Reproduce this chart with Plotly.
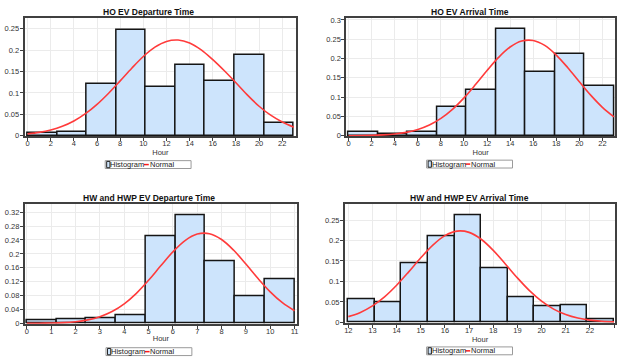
import plotly.graph_objects as go

# ---------------- data ----------------
# HO EV Departure Time
ho_dep_title = "HO EV Departure Time"
ho_dep_range = (0, 23)
ho_dep_freq = [0.006, 0.008, 0.120, 0.247, 0.115, 0.165, 0.128, 0.188, 0.030]
ho_dep_norm_x = [0, 1, 2, 3, 4, 5, 6, 7, 8, 9, 10, 11, 12, 13, 14, 15, 16, 17, 18, 19, 20, 21, 22, 23]
ho_dep_norm_y = [0.0043, 0.0078, 0.0134, 0.0220, 0.0345, 0.0515, 0.0733, 0.0994, 0.1284, 0.1580,
                 0.1854, 0.2071, 0.2206, 0.2238, 0.2170, 0.2010, 0.1780, 0.1520, 0.1240, 0.0950,
                 0.0690, 0.0480, 0.0320, 0.0200]

# HO EV Arrival Time
ho_arr_title = "HO EV Arrival Time"
ho_arr_range = (0, 23)
ho_arr_freq = [0.010, 0.0035, 0.010, 0.075, 0.118, 0.277, 0.165, 0.212, 0.130]
ho_arr_norm_x = [0, 1, 2, 3, 4, 5, 6, 7, 8, 9, 10, 11, 12, 13, 14, 15, 16, 17, 18, 19, 20, 21, 22, 23]
ho_arr_norm_y = [0.0002, 0.0005, 0.0010, 0.0023, 0.0046, 0.0089, 0.0162, 0.0278, 0.0449, 0.0683,
                 0.0981, 0.1326, 0.1690, 0.2030, 0.2299, 0.2454, 0.2468, 0.2340, 0.2091, 0.1762,
                 0.1399, 0.1047, 0.0738, 0.0491]

# HW and HWP EV Departure Time
hw_dep_title = "HW and HWP EV Departure Time"
hw_dep_range = (0, 11)
hw_dep_freq = [0.010, 0.012, 0.014, 0.0245, 0.252, 0.312, 0.179, 0.079, 0.127]
hw_dep_norm_x = [0, 0.5, 1, 1.5, 2, 2.5, 3, 3.5, 4, 4.5, 5, 5.5, 6, 6.5, 7, 7.5, 8, 8.5, 9, 9.5,
                 10, 10.5, 11]
hw_dep_norm_y = [0.0001, 0.0004, 0.0010, 0.0022, 0.0049, 0.0101, 0.0192, 0.0341, 0.0563, 0.0866,
                 0.1241, 0.1657, 0.2059, 0.2384, 0.2571, 0.2582, 0.2415, 0.2104, 0.1707, 0.1290,
                 0.0908, 0.0595, 0.0363]

# HW and HWP EV Arrival Time
hw_arr_title = "HW and HWP EV Arrival Time"
hw_arr_range = (12, 23)
hw_arr_freq = [0.056, 0.0497, 0.1434, 0.2115, 0.262, 0.1314, 0.0609, 0.040, 0.0417, 0.008]
hw_arr_norm_x = [12, 12.5, 13, 13.5, 14, 14.5, 15, 15.5, 16, 16.5, 17, 17.5, 18, 18.5, 19, 19.5,
                 20, 20.5, 21, 21.5, 22, 22.5, 23]
hw_arr_norm_y = [0.0140, 0.0242, 0.0401, 0.0622, 0.0906, 0.1234, 0.1578, 0.1889, 0.2120, 0.2230,
                 0.2199, 0.2031, 0.1759, 0.1428, 0.1086, 0.0774, 0.0517, 0.0324, 0.0190, 0.0104,
                 0.0054, 0.0026, 0.0012]

x_label = "Hour"
legend_names = ["Histogram", "Normal"]

# ---------------- style ----------------
FONT = "Liberation Sans, Arial, sans-serif"
BAR_FILL = "#cde4fc"
BAR_LINE = "#151515"
CURVE = "#ff3b3b"
AXIS = "#404040"
GRID = "#ebebeb"
W, H = 617, 364

panels = [
    dict(title=ho_dep_title, rng=ho_dep_range, freq=ho_dep_freq, nx=ho_dep_norm_x, ny=ho_dep_norm_y,
         px=(23.7, 296.7), py=(16.3, 136.5), xr=(-0.258, 23.21), yr=(-0.0012, 0.2753),
         xd=2, yd=0.05, title_xy=(148.5, 10), leg_lc=(104.7, 165.3)),
    dict(title=ho_arr_title, rng=ho_arr_range, freq=ho_arr_freq, nx=ho_arr_norm_x, ny=ho_arr_norm_y,
         px=(347.0, 617.0), py=(16.3, 136.5), xr=(-0.2, 23.09), yr=(-0.0012, 0.305),
         xd=2, yd=0.05, title_xy=(471, 10), leg_lc=(427.7, 164.8)),
    dict(title=hw_dep_title, rng=hw_dep_range, freq=hw_dep_freq, nx=hw_dep_norm_x, ny=hw_dep_norm_y,
         px=(24.0, 297.3), py=(205.7, 327.2), xr=(-0.082, 11.094), yr=(-0.0012, 0.3427),
         xd=1, yd=0.04, title_xy=(149, 199.3), leg_lc=(105.5, 355.5)),
    dict(title=hw_arr_title, rng=hw_arr_range, freq=hw_arr_freq, nx=hw_arr_norm_x, ny=hw_arr_norm_y,
         px=(345.7, 617.0), py=(205.7, 326.2), xr=(11.864, 23.04), yr=(-0.0012, 0.2885),
         xd=1, yd=0.05, title_xy=(471, 199.3), leg_lc=(427.7, 354.7)),
]

fig = go.Figure()
annotations = []
shapes = []
layout_axes = {}


def px_x(v):
    return v / W


def px_y(v):
    return 1 - v / H


for i, p in enumerate(panels):
    k = "" if i == 0 else str(i + 1)
    xa, ya = "x" + k, "y" + k
    lo, hi = p["rng"]
    n = len(p["freq"])
    bw = (hi - lo) / n
    lefts = [lo + j * bw for j in range(n)]

    fig.add_trace(go.Bar(
        x=lefts, y=p["freq"], width=[bw] * n, offset=0,
        marker=dict(color=BAR_FILL, line=dict(color=BAR_LINE, width=1.5)),
        name=legend_names[0], xaxis=xa, yaxis=ya, showlegend=False,
    ))
    fig.add_trace(go.Scatter(
        x=p["nx"], y=p["ny"], mode="lines", line=dict(color=CURVE, width=1.6, shape="spline"),
        name=legend_names[1], xaxis=xa, yaxis=ya, showlegend=False,
    ))

    x0, x1 = p["px"]
    y0, y1 = p["py"]
    layout_axes["xaxis" + k] = dict(
        domain=[x0 / W, x1 / W], anchor=ya, range=list(p["xr"]), dtick=p["xd"], tick0=0,
        showline=True, mirror=True, linecolor=AXIS, linewidth=2,
        ticks="outside", ticklen=3, tickcolor=AXIS, tickwidth=1, ticklabelstandoff=-4,
        showgrid=True, gridcolor=GRID, gridwidth=1, zeroline=False,
        tickfont=dict(size=7.5, color="#333", family=FONT),
        title=dict(text=x_label, font=dict(size=7.5, color="#333", family=FONT), standoff=1),
    )
    layout_axes["yaxis" + k] = dict(
        domain=[1 - y1 / H, 1 - y0 / H], anchor=xa, range=list(p["yr"]), dtick=p["yd"], tick0=0,
        showline=True, mirror=True, linecolor=AXIS, linewidth=2,
        ticks="outside", ticklen=3, tickcolor=AXIS, tickwidth=1, ticklabelstandoff=-1,
        showgrid=True, gridcolor=GRID, gridwidth=1, zeroline=False,
        tickfont=dict(size=7.5, color="#333", family=FONT),
    )
    tx, ty = p["title_xy"]
    annotations.append(dict(
        text="<b>" + p["title"] + "</b>", x=px_x(tx), y=px_y(ty), xref="paper", yref="paper",
        xanchor="center", yanchor="middle", showarrow=False,
        font=dict(size=8.5, color="#111", family=FONT),
    ))

    # compact legend (box, histogram swatch, normal line, labels)
    L, C = p["leg_lc"]
    shapes.append(dict(type="rect", xref="paper", yref="paper",
                       x0=px_x(L), x1=px_x(L + 86.3), y0=px_y(C - 4), y1=px_y(C + 4),
                       line=dict(color="#9a9a9a", width=1), fillcolor="white", layer="above"))
    shapes.append(dict(type="rect", xref="paper", yref="paper",
                       x0=px_x(L + 1.5), x1=px_x(L + 4.8), y0=px_y(C - 3.2), y1=px_y(C + 3.2),
                       line=dict(color="#222", width=1), fillcolor=BAR_FILL, layer="above"))
    shapes.append(dict(type="line", xref="paper", yref="paper",
                       x0=px_x(L + 39), x1=px_x(L + 43.8), y0=px_y(C), y1=px_y(C),
                       line=dict(color="#ff1a1a", width=1.5), layer="above"))
    annotations.append(dict(
        text=legend_names[0], x=px_x(L + 4.2), y=px_y(C), xref="paper", yref="paper",
        xanchor="left", yanchor="middle", showarrow=False, borderpad=0,
        font=dict(size=7.5, color="#222", family=FONT),
    ))
    annotations.append(dict(
        text=legend_names[1], x=px_x(L + 43.6), y=px_y(C), xref="paper", yref="paper",
        xanchor="left", yanchor="middle", showarrow=False, borderpad=0,
        font=dict(size=7.5, color="#222", family=FONT),
    ))

fig.update_layout(
    width=W, height=H, margin=dict(l=0, r=0, t=0, b=0),
    paper_bgcolor="white", plot_bgcolor="white",
    font=dict(family=FONT, size=7.5, color="#333"),
    annotations=annotations, shapes=shapes, bargap=0, showlegend=False,
    **layout_axes,
)

fig.write_html("out.html")
